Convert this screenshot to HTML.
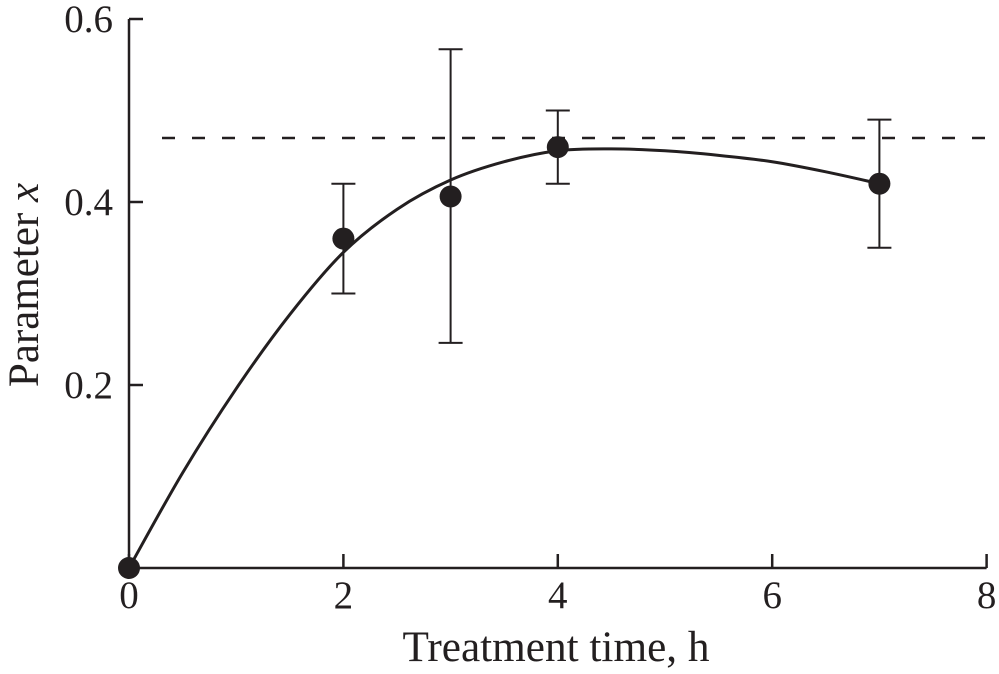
<!DOCTYPE html>
<html><head><meta charset="utf-8"><style>
body{margin:0;background:#fff}
svg{display:block;font-family:"Liberation Serif",serif}
</style></head><body>
<svg id="chart" width="999" height="674" viewBox="0 0 999 674">
<g id="axes"></g>
<g id="marks"></g>
<text x="556" y="661" font-size="43" text-anchor="middle" fill="#231f20" textLength="307" lengthAdjust="spacingAndGlyphs">Treatment time, h</text>
<text transform="translate(38,285) rotate(-90)" font-size="43" text-anchor="middle" fill="#231f20">Parameter <tspan font-style="italic">x</tspan></text>
</svg>
<script>
const xTicks=[0,2,4,6,8];
const yTicks=[0.2,0.4,0.6];
const yTickLabels=["0.2","0.4","0.6"];
const ptX=[0,2,3,4,7];
const ptY=[0,0.36,0.406,0.46,0.42];
const errLo=[0,0.30,0.246,0.42,0.35];
const errHi=[0,0.42,0.567,0.50,0.49];
const fitX=[0,0.5,1,1.5,2,2.5,3,3.5,4,4.5,5,5.5,6,6.5,7];
const fitY=[0,0.104,0.196,0.277,0.345,0.392,0.424,0.444,0.456,0.458,0.456,0.451,0.444,0.433,0.42];
const refLevel=[0.47];
const X=v=>129+v*107.2, Y=v=>568-v*915;
const NS="http://www.w3.org/2000/svg", C="#231f20";
function mk(p,t,a){const e=document.createElementNS(NS,t);for(const k in a)e.setAttribute(k,a[k]);p.appendChild(e);return e;}
const ax=document.getElementById('axes'), mg=document.getElementById('marks');
let e=mk(ax,'line',{x1:X(0),y1:Y(0),x2:X(8),y2:Y(0),stroke:C,'stroke-width':2.5});


e=mk(ax,'line',{x1:X(0),y1:Y(0),x2:X(0),y2:Y(0.6),stroke:C,'stroke-width':2.5});


xTicks.forEach(t=>{
 let l=mk(ax,'line',{x1:X(t),y1:Y(0),x2:X(t),y2:Y(0)-14,stroke:C,'stroke-width':2.5});
 
 
 let s=mk(ax,'text',{x:X(t),y:608,'font-size':39,'text-anchor':'middle',fill:C});s.textContent=t;
 
 
});
yTicks.forEach((t,i)=>{
 let l=mk(ax,'line',{x1:X(0),y1:Y(t),x2:X(0)+14,y2:Y(t),stroke:C,'stroke-width':2.5});
 
 
 let s=mk(ax,'text',{x:113,y:Y(t)+13,'font-size':39,'text-anchor':'end',fill:C});s.textContent=yTickLabels[i];
 
 
});
e=mk(mg,'line',{x1:162,y1:Y(refLevel[0]),x2:988,y2:Y(refLevel[0]),stroke:C,'stroke-width':2.5,'stroke-dasharray':'13,17'});


let d=fitX.map((v,i)=>[X(v),Y(fitY[i])]);
let p='M'+d[0];
for(let i=0;i<d.length-1;i++){const p0=d[Math.max(0,i-1)],p1=d[i],p2=d[i+1],p3=d[Math.min(d.length-1,i+2)];
 p+=` C${p1[0]+(p2[0]-p0[0])/6},${p1[1]+(p2[1]-p0[1])/6} ${p2[0]-(p3[0]-p1[0])/6},${p2[1]-(p3[1]-p1[1])/6} ${p2[0]},${p2[1]}`;}
e=mk(mg,'path',{d:p,fill:'none',stroke:C,'stroke-width':3});


ptX.forEach((v,i)=>{
 if(errHi[i]>errLo[i]){
  const g=mk(mg,'g',{stroke:C,'stroke-width':2});
  
  
  mk(g,'line',{x1:X(v),y1:Y(errLo[i]),x2:X(v),y2:Y(errHi[i])});
  mk(g,'line',{x1:X(v)-12,y1:Y(errLo[i]),x2:X(v)+12,y2:Y(errLo[i])});
  mk(g,'line',{x1:X(v)-12,y1:Y(errHi[i]),x2:X(v)+12,y2:Y(errHi[i])});
 }
 const c=mk(mg,'circle',{cx:X(v),cy:Y(ptY[i]),r:11,fill:C});
 
 
});
</script>
</body></html>
